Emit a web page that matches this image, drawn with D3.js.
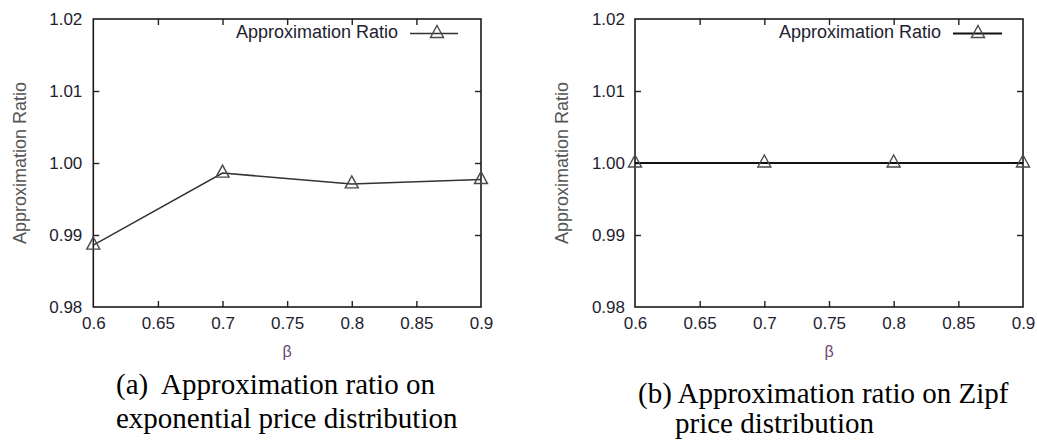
<!DOCTYPE html>
<html>
<head>
<meta charset="utf-8">
<script src="https://cdn.jsdelivr.net/npm/d3@7"></script>
<style>
  html, body { margin: 0; padding: 0; background: #fff; }
  svg { display: block; }
</style>
</head>
<body>
<svg id="fig" width="1037" height="442"></svg>
<script>
// β values on the x axis
const betas = [0.6, 0.7, 0.8, 0.9];
// approximation ratio, exponential price distribution
const ratioExponential = [0.9886, 0.9986, 0.9971, 0.9977];
// approximation ratio, Zipf price distribution
const ratioZipf = [1.0, 1.0, 1.0, 1.0];

const xTicks = [0.6, 0.65, 0.7, 0.75, 0.8, 0.85, 0.9];
const xTickLabels = ["0.6", "0.65", "0.7", "0.75", "0.8", "0.85", "0.9"];
const yTicks = [0.98, 0.99, 1.00, 1.01, 1.02];
const yTickLabels = ["0.98", "0.99", "1.00", "1.01", "1.02"];

const seriesName = "Approximation Ratio";
const yTitle = "Approximation Ratio";
const xTitle = "β";
const captionA = ["(a)  Approximation ratio on", "exponential price distribution"];
const captionB = ["(b) Approximation ratio on Zipf", "price distribution"];

const svg = d3.select("#fig");
svg.append("rect").attr("width", 1037).attr("height", 442).attr("fill", "#fff");

const sans = '"Liberation Sans", Arial, Helvetica, sans-serif';
const serif = '"Liberation Serif", "Times New Roman", serif';

const plotTop = 19, plotBottom = 307;
const y = d3.scaleLinear().domain([0.98, 1.02]).range([plotBottom, plotTop]);

// open triangle marker centred on the data point
const tri = "M0,-8L6.5,4L-6.5,4Z";

function panel(opts) {
  const x = d3.scaleLinear().domain([0.6, 0.9]).range([opts.x0, opts.x1]);
  const g = svg.append("g");
  const fmtX = (d) => xTickLabels[xTicks.indexOf(d)];
  const fmtY = (d) => yTickLabels[yTicks.findIndex(v => Math.abs(v - d) < 1e-9)];
  const isEndX = (d) => d === 0.6 || d === 0.9;
  const isEndY = (d) => Math.abs(d - 0.98) < 1e-9 || Math.abs(d - 1.02) < 1e-9;

  // bottom axis with labels, ticks pointing inward
  const gb = g.append("g").attr("transform", `translate(0,${plotBottom})`)
    .call(d3.axisBottom(x).tickValues(xTicks).tickFormat(fmtX)
      .tickSizeInner(-6).tickSizeOuter(0).tickPadding(10));
  // mirrored top ticks
  const gt = g.append("g").attr("transform", `translate(0,${plotTop})`)
    .call(d3.axisTop(x).tickValues(xTicks).tickFormat("")
      .tickSizeInner(-6).tickSizeOuter(0));
  // left axis with labels
  const gl = g.append("g").attr("transform", `translate(${opts.x0},0)`)
    .call(d3.axisLeft(y).tickValues(yTicks).tickFormat(fmtY)
      .tickSizeInner(-6).tickSizeOuter(0).tickPadding(opts.yPad));
  // mirrored right ticks
  const gr = g.append("g").attr("transform", `translate(${opts.x1},0)`)
    .call(d3.axisRight(y).tickValues(yTicks).tickFormat("")
      .tickSizeInner(-6).tickSizeOuter(0));

  [gb, gt, gl, gr].forEach(a => {
    a.select(".domain").remove();
    a.selectAll(".tick line").attr("stroke", "#222").attr("stroke-width", 1.4);
    a.selectAll(".tick text").attr("font-size", 17).attr("fill", "#1e2230")
      .attr("font-family", sans);
  });
  // end ticks sit on the frame corners
  [gb, gt].forEach(a => a.selectAll(".tick line").attr("display", d => isEndX(d) ? "none" : null));
  [gl, gr].forEach(a => a.selectAll(".tick line").attr("display", d => isEndY(d) ? "none" : null));

  // plot frame
  g.append("rect")
    .attr("x", opts.x0).attr("y", plotTop)
    .attr("width", opts.x1 - opts.x0).attr("height", plotBottom - plotTop)
    .attr("fill", "none").attr("stroke", "#1a1a1a").attr("stroke-width", 1.6);

  // series line
  const line = d3.line().x((d, i) => x(betas[i])).y(d => y(d));
  g.append("path").datum(opts.values)
    .attr("d", line).attr("fill", "none")
    .attr("stroke", opts.lineColor).attr("stroke-width", opts.lineWidth);

  // markers
  g.selectAll("path.mk").data(opts.values).join("path")
    .attr("class", "mk")
    .attr("d", tri)
    .attr("transform", (d, i) => `translate(${x(betas[i])},${y(d)})`)
    .attr("fill", "none").attr("stroke", "#4a4a4a").attr("stroke-width", 1.4);

  // legend
  g.append("text")
    .attr("x", opts.legendTextEnd).attr("y", 37.5)
    .attr("text-anchor", "end")
    .attr("font-family", sans).attr("font-size", 18).attr("fill", "#1e2230")
    .text(seriesName);
  g.append("line")
    .attr("x1", opts.legendLine[0]).attr("x2", opts.legendLine[1])
    .attr("y1", 33.5).attr("y2", 33.5)
    .attr("stroke", opts.lineColor).attr("stroke-width", opts.lineWidth);
  g.append("path").attr("d", tri)
    .attr("transform", `translate(${opts.legendMarker},33.5)`)
    .attr("fill", "none").attr("stroke", "#4a4a4a").attr("stroke-width", 1.4);

  // axis titles
  g.append("text")
    .attr("transform", `translate(${opts.yTitleX},163) rotate(-90)`)
    .attr("text-anchor", "middle").attr("dy", "0.35em")
    .attr("font-family", sans).attr("font-size", 18).attr("fill", "#555")
    .text(yTitle);
  g.append("text")
    .attr("x", (opts.x0 + opts.x1) / 2).attr("y", 357)
    .attr("text-anchor", "middle")
    .attr("font-family", sans).attr("font-size", 16).attr("fill", "#6a4870")
    .text(xTitle);

  // caption
  opts.caption.forEach((t, i) => {
    g.append("text")
      .attr("x", opts.capX[i]).attr("y", opts.capY[i])
      .attr("font-family", serif).attr("font-size", 29).attr("fill", "#000")
      .style("white-space", "pre")
      .text(t);
  });
}

panel({
  x0: 93.3, x1: 481, yPad: 11, values: ratioExponential,
  lineColor: "#333", lineWidth: 1.5,
  legendTextEnd: 398, legendLine: [410, 458], legendMarker: 437,
  yTitleX: 20,
  caption: captionA, capX: [116, 116], capY: [394, 428]
});

panel({
  x0: 635, x1: 1023, yPad: 10, values: ratioZipf,
  lineColor: "#111", lineWidth: 2,
  legendTextEnd: 941, legendLine: [953, 1002], legendMarker: 978,
  yTitleX: 562,
  caption: captionB, capX: [638, 675], capY: [403, 433]
});
</script>
</body>
</html>
